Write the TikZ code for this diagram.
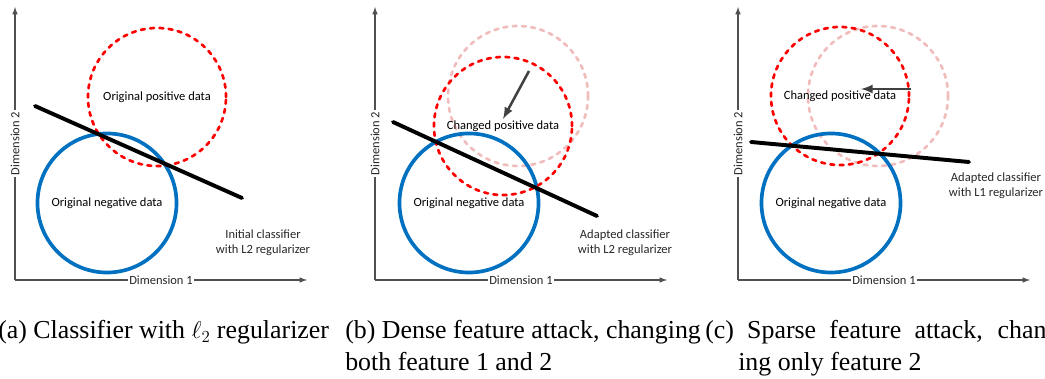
\documentclass[tikz,border=0pt]{standalone}
\usepackage{fontspec}
\setmainfont{Liberation Serif}
\newfontfamily\diagfont{Carlito}
\usetikzlibrary{arrows,positioning}

\definecolor{negblue}{RGB}{0,112,192}
\definecolor{axisgray}{RGB}{80,80,80}
\definecolor{palered}{RGB}{240,188,188}
\definecolor{movegray}{RGB}{64,64,64}

\tikzstyle{axis} = [draw=axisgray, line width=0.8pt, -latex]
\tikzstyle{dimlabel} = [fill=white, inner sep=1pt, text=black!85]
\tikzstyle{negdata} = [circle, draw=negblue, line width=2.6pt, minimum size=3.475cm, inner sep=0pt]
\tikzstyle{posdata} = [circle, draw=red, line width=1.9pt, line cap=round, dash pattern=on 2.8pt off 3.8pt, minimum size=3.45cm, inner sep=0pt]
\tikzstyle{oldpos} = [posdata, draw=palered, minimum size=3.5cm]
\tikzstyle{classifier} = [draw=black, line width=2.8pt, line cap=round]
\tikzstyle{move} = [draw=movegray, line width=1.8pt, -latex]
\tikzstyle{note} = [align=center, text=black!85]
\tikzstyle{captext} = [anchor=base west, inner sep=0pt, font=\fontsize{18.4}{22}\selectfont]

\begin{document}
\begin{tikzpicture}[x=0.025cm,y=0.025cm,every node/.style={font=\diagfont\fontsize{8.9}{10.5}\selectfont}]
\useasboundingbox (0,0) rectangle (1045,379);

% (a) initial classifier
\begin{scope}[shift={(15,99)}]
    \coordinate (oa) at (0,0);
    \coordinate (ya) at (0,273);
    \coordinate (xa) at (292,0);
    \draw[axis] (oa) -- node[dimlabel, rotate=90] (d2a) {Dimension 2} (ya);
    \draw[axis] (oa) -- node[dimlabel] (d1a) {Dimension 1} (xa);

    \node[negdata] (nega) at (92,77) {Original negative data};
    \node[posdata] (posa) at (142,183) {Original positive data};

    \coordinate (la1) at (20,174);
    \coordinate (la2) at (227,82);
    \draw[classifier] (la1) -- (la2);
    \node[note] (cla) at (248,37) {Initial classifier\\with L2 regularizer};
\end{scope}

% (b) dense attack
\begin{scope}[shift={(375,99)}]
    \coordinate (ob) at (0,0);
    \coordinate (yb) at (0,273);
    \coordinate (xb) at (292,0);
    \draw[axis] (ob) -- node[dimlabel, rotate=90] (d2b) {Dimension 2} (yb);
    \draw[axis] (ob) -- node[dimlabel] (d1b) {Dimension 1} (xb);

    \node[oldpos] (oldb) at (143,184) {};
    \node[negdata] (negb) at (94,77) {Original negative data};
    \node[posdata] (posb) at (128,154) {Changed positive data};

    \coordinate (mb1) at (154,209);
    \coordinate (mb2) at (128,161);
    \draw[move] (mb1) -- (mb2);

    \coordinate (lb1) at (18,158);
    \coordinate (lb2) at (222,64);
    \draw[classifier] (lb1) -- (lb2);
    \node[note] (clb) at (250,37) {Adapted classifier\\with L2 regularizer};
\end{scope}

% (c) sparse attack
\begin{scope}[shift={(738,99)}]
    \coordinate (oc) at (0,0);
    \coordinate (yc) at (0,273);
    \coordinate (xc) at (292,0);
    \draw[axis] (oc) -- node[dimlabel, rotate=90] (d2c) {Dimension 2} (yc);
    \draw[axis] (oc) -- node[dimlabel] (d1c) {Dimension 1} (xc);

    \node[oldpos] (oldc) at (140,184) {};
    \node[negdata] (negc) at (93,77) {Original negative data};
    \node[posdata] (posc) at (102,184) {Changed positive data};

    \coordinate (mc1) at (173,191);
    \coordinate (mc2) at (123,191);
    \draw[move] (mc1) -- (mc2);

    \coordinate (lc1) at (13,138);
    \coordinate (lc2) at (231,118);
    \draw[classifier] (lc1) -- (lc2);
    \node[note] (clc) at (258,94) {Adapted classifier\\with L1 regularizer};
\end{scope}

% sub-captions
\node[captext] (capa) at (-2,40) {(a) Classifier with $\ell_2$ regularizer};
\node[captext] (capb) at (345,40) {(b) Dense feature attack, changing};
\node[captext] (capb2) at (345,8) {both feature 1 and 2};
\node[captext] (capc) at (705,40) {\makebox[258pt][s]{(c) Sparse feature attack, chang-}};
\node[captext] (capc2) at (738,8) {ing only feature 2};
\end{tikzpicture}
\end{document}
